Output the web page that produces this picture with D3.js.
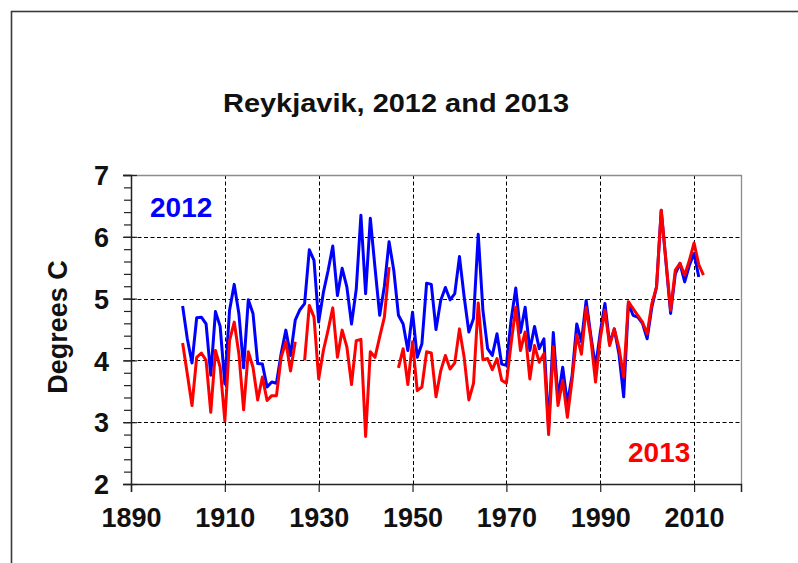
<!DOCTYPE html>
<html>
<head>
<meta charset="utf-8">
<script src="https://cdn.jsdelivr.net/npm/d3@7"></script>
<style>
    body { margin: 0; background: #fff; }
    text { font-family: "Liberation Sans", Arial, sans-serif; font-weight: bold; }
</style>
</head>
<body>
<div id="chart"></div>
<script>
// annual mean temperature, Reykjavik
var startYear = 1901;

var v2012 = [
    4.88, 4.35, 3.96, 4.69, 4.70, 4.59, 3.76, 4.79, 4.55, 3.62,
    4.81, 5.23, 4.75, 3.88, 4.98, 4.76, 3.95, 3.94, 3.57, 3.65,
    3.63, 4.11, 4.49, 4.08, 4.65, 4.82, 4.92, 5.79, 5.62, 4.62,
    5.10, 5.45, 5.85, 5.05, 5.49, 5.19, 4.59, 5.15, 6.35, 5.08,
    6.30, 5.50, 4.73, 5.20, 5.92, 5.46, 4.73, 4.59, 4.16, 4.78,
    4.05, 4.27, 5.25, 5.23, 4.50, 4.97, 5.18, 4.98, 5.08, 5.68,
    5.03, 4.46, 4.68, 6.04, 4.81, 4.19, 4.08, 4.43, 3.94, 3.92,
    4.65, 5.17, 4.45, 4.86, 4.16, 4.55, 4.19, 4.35, 2.90, 4.45,
    3.38, 3.89, 3.30, 3.75, 4.59, 4.30, 4.97, 4.40, 3.89, 4.45,
    4.92, 4.27, 4.51, 4.10, 3.41, 4.92, 4.73, 4.70, 4.60, 4.35,
    4.86, 5.19, 6.43, 5.60, 4.76, 5.40, 5.57, 5.27, 5.54, 5.73,
    5.35
];

var v2013 = [
    4.28, 3.78, 3.27, 4.05, 4.12, 4.00, 3.16, 4.16, 3.89, 3.02,
    4.32, 4.62, 4.10, 3.20, 4.14, 3.89, 3.36, 3.73, 3.35, 3.43,
    3.43, 4.05, 4.30, 3.83, 4.30, null, 4.00, 4.89, 4.70, 3.70,
    4.16, 4.49, 4.85, 4.05, 4.49, 4.22, 3.61, 4.32, 4.34, 2.77,
    4.14, 4.05, 4.38, 4.70, 5.51, null, 3.88, 4.19, 3.61, 4.30,
    3.51, 3.57, 4.14, 4.12, 3.41, 3.83, 4.08, 3.86, 3.96, 4.51,
    4.05, 3.36, 3.63, 4.93, 4.01, 4.03, 3.85, 4.03, 3.68, 3.63,
    4.27, 4.86, 4.16, 4.46, 3.70, 4.24, 3.97, 4.11, 2.80, 4.22,
    3.27, 3.68, 3.08, 3.68, 4.41, 4.10, 4.86, 4.35, 3.65, 4.35,
    4.81, 4.24, 4.51, 4.20, 3.73, 4.95, 4.84, 4.73, 4.62, 4.43,
    4.92, 5.19, 6.43, 5.62, 4.81, 5.46, 5.57, 5.38, 5.62, 5.90,
    5.55, 5.38
];

var xTicks = [1890, 1910, 1930, 1950, 1970, 1990, 2010];
var yTicks = [2, 3, 4, 5, 6, 7];

// set the dimensions and margins of the graph
var W = 798, H = 563;
var margin = { top: 175, right: 57, bottom: 79, left: 131 },
    width = W - margin.left - margin.right,
    height = H - margin.top - margin.bottom;

var svg = d3.select("#chart")
    .append("svg")
    .attr("width", W)
    .attr("height", H);

svg.append("rect")
    .attr("width", W).attr("height", H)
    .attr("fill", "#fff");

// outer frame of the chart object (runs off the picture right and bottom)
svg.append("rect")
    .attr("x", 11.5).attr("y", 11.5)
    .attr("width", W).attr("height", H)
    .attr("fill", "none")
    .attr("stroke", "#3a3a3a")
    .attr("stroke-width", 1.6);

// title
svg.append("text")
    .attr("x", 396)
    .attr("y", 112)
    .attr("text-anchor", "middle")
    .attr("font-size", 26)
    .attr("textLength", 346)
    .attr("lengthAdjust", "spacingAndGlyphs")
    .attr("fill", "#111")
    .text("Reykjavik, 2012 and 2013");

var g = svg.append("g")
    .attr("transform", "translate(" + margin.left + "," + margin.top + ")");

var x = d3.scaleLinear().domain([1890, 2020]).range([0, width]);
var y = d3.scaleLinear().domain([2, 7]).range([height, 0]);

// dashed grid
g.append("g")
    .selectAll("line")
    .data(yTicks.filter(function (d) { return d > 2 && d < 7; }))
    .enter().append("line")
    .attr("x1", 0).attr("x2", width)
    .attr("y1", function (d) { return Math.round(y(d)) + 0.5; })
    .attr("y2", function (d) { return Math.round(y(d)) + 0.5; })
    .attr("stroke", "#000")
    .attr("stroke-dasharray", "4,2.5");

g.append("g")
    .selectAll("line")
    .data(xTicks.filter(function (d) { return d > 1890; }))
    .enter().append("line")
    .attr("y1", 0).attr("y2", height)
    .attr("x1", function (d) { return Math.round(x(d)) + 0.5; })
    .attr("x2", function (d) { return Math.round(x(d)) + 0.5; })
    .attr("stroke", "#000")
    .attr("stroke-dasharray", "4,2.5");

// top and right border
g.append("path")
    .attr("d", "M-8,0.5H" + (width + 0.5) + "V" + height)
    .attr("fill", "none")
    .attr("stroke", "#8c8c8c")
    .attr("stroke-width", 1.3);

// X axis
var xAxis = g.append("g")
    .attr("transform", "translate(0," + height + ")")
    .call(d3.axisBottom(x).tickValues(xTicks).tickFormat(d3.format("d")).tickSize(8).tickPadding(16));

// Y axis, minor ticks every 0.2
var yMinor = g.append("g")
    .call(d3.axisLeft(y).tickValues(d3.range(20, 71, 2).map(function (d) { return d / 10; }))
        .tickSize(7).tickFormat(""));
yMinor.select(".domain").remove();

var yAxis = g.append("g")
    .call(d3.axisLeft(y).tickValues(yTicks).tickFormat(d3.format("d")).tickSize(8).tickPadding(14));
yAxis.selectAll(".tick line").attr("x2", 6).attr("x1", -8);

[xAxis, yAxis, yMinor].forEach(function (a) {
    a.selectAll("line").attr("stroke", "#222").attr("stroke-width", 1.2);
    a.select(".domain").attr("stroke", "#222").attr("stroke-width", 1.5);
    a.selectAll("text")
        .attr("font-size", 27)
        .attr("font-family", "Liberation Sans, Arial, sans-serif")
        .attr("font-weight", "bold")
        .attr("fill", "#111");
});
yAxis.selectAll("text").attr("dy", "0.36em");

// axis title
svg.append("text")
    .attr("transform", "translate(67,327) rotate(-90)")
    .attr("text-anchor", "middle")
    .attr("font-size", 27)
    .attr("fill", "#111")
    .text("Degrees C");

// the two series
var line = d3.line()
    .defined(function (d) { return d != null; })
    .x(function (d, i) { return x(startYear + i); })
    .y(function (d) { return y(d); });

g.append("path")
    .datum(v2012)
    .attr("d", line)
    .attr("fill", "none")
    .attr("stroke", "#0000ff")
    .attr("stroke-width", 3)
    .attr("stroke-linejoin", "round");

g.append("path")
    .datum(v2013)
    .attr("d", line)
    .attr("fill", "none")
    .attr("stroke", "#ff0000")
    .attr("stroke-width", 3)
    .attr("stroke-linejoin", "round");

// series labels
svg.append("text")
    .attr("x", 150).attr("y", 217)
    .attr("font-size", 28)
    .attr("fill", "#0000ff")
    .text("2012");

svg.append("text")
    .attr("x", 628).attr("y", 462)
    .attr("font-size", 28)
    .attr("fill", "#ff0000")
    .text("2013");
</script>
</body>
</html>
